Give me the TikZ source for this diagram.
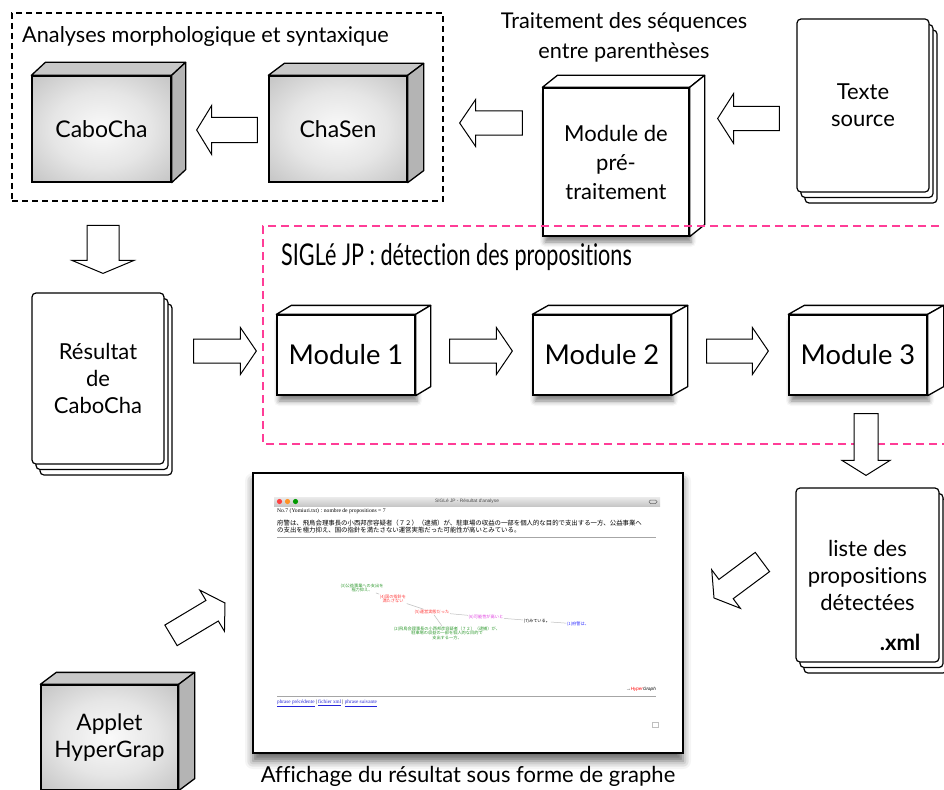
\documentclass[tikz,border=0pt]{standalone}
\usepackage{fontspec}
\setmainfont{Lato}[Ligatures=NoCommon]
\newfontfamily\condfont[FakeStretch=0.72, Ligatures=NoCommon]{Lato}
\newfontfamily\jpfont{Noto Sans CJK JP}
\newfontfamily\shotserif{Liberation Serif}
\newfontfamily\shotsans{Liberation Sans}
\usetikzlibrary{calc, positioning, shadows.blur}
\definecolor{sigPink}{HTML}{FF3D97}
\definecolor{cubeTop}{HTML}{C8C8C8}
\definecolor{cubeSide}{HTML}{B4B4B4}
\definecolor{jpGreen}{HTML}{2F9A2F}
\definecolor{jpRed}{HTML}{FF3B3B}
\definecolor{jpMagenta}{HTML}{E03CE0}
\definecolor{jpBlue}{HTML}{2B2BFF}
\definecolor{linkBlue}{HTML}{2424D8}
\pgfdeclareradialshading{cubeglow}{\pgfpoint{0bp}{0bp}}{color(0bp)=(black!2); color(18bp)=(black!10); color(45bp)=(black!30); color(72bp)=(black!45)}
\tikzset{
  graycube/.style={rectangle, draw, line width=1.3pt, shading=cubeglow,
                   align=center, inner sep=0pt, font=\fontsize{23}{27}\selectfont},
  whitecube/.style={rectangle, draw, line width=1.3pt, fill=white, align=center,
                    inner sep=0pt, font=\fontsize{22}{29}\selectfont,
                    blur shadow={shadow xshift=2pt, shadow yshift=-6pt,
                                 shadow blur radius=5pt, shadow opacity=50}},
  docpage/.style={rectangle, rounded corners=4pt, draw, line width=1.2pt, fill=white,
                  align=center, inner sep=0pt, font=\fontsize{22}{27}\selectfont},
  sheetback/.style={draw, line width=1.2pt, fill=white, rounded corners=4pt},
  bigarrow/.style={draw, line width=1pt, fill=white, line join=miter},
  anaframe/.style={rectangle, draw, dashed, dash pattern=on 6pt off 4pt, line width=1.2pt},
  pinkframe/.style={draw=sigPink, line width=2.6pt, dash pattern=on 8pt off 5pt},
  shotframe/.style={rectangle, draw, line width=2pt, fill=white,
                    blur shadow={shadow xshift=0pt, shadow yshift=-8pt,
                                 shadow blur radius=8pt, shadow opacity=60}},
  grnode/.style={inner sep=0.5pt, align=center, font=\jpfont\fontsize{4.2}{4.6}\selectfont},
  gredge/.style={draw=black!25, line width=0.5pt},
}
% top and right faces of a cube: node, depth, top fill, side fill
\newcommand{\cubefaces}[4]{%
  \draw[line width=1.3pt, line join=round, fill=#3] (#1.north west) -- ++(#2)
    -- ($(#1.north east)+(#2)$) -- (#1.north east) -- cycle;
  \draw[line width=1.3pt, line join=round, fill=#4] (#1.north east) -- ($(#1.north east)+(#2)$)
    -- ($(#1.south east)+(#2)$) -- (#1.south east) -- cycle;}
% two sheets behind a document: centre, width, height
\newcommand{\sheets}[3]{%
  \foreach \k in {2,1}
    \draw[sheetback] ($(#1)+(\k*4-#2/2,\k*5.5-#3/2)$) rectangle ($(#1)+(\k*4+#2/2,\k*5.5+#3/2)$);}
% hollow block arrow: tail, tip, shaft half width, head half width, head length
\newcommand{\fatarrow}[5]{%
  \coordinate (fa-t) at #1;
  \coordinate (fa-p) at #2;
  \coordinate (fa-h) at ($(fa-p)!#5!(fa-t)$);
  \draw[bigarrow] ($(fa-t)!#3!90:(fa-p)$) -- ($(fa-h)!#3!90:(fa-p)$) -- ($(fa-h)!#4!90:(fa-p)$)
    -- (fa-p) -- ($(fa-h)!#4!-90:(fa-p)$) -- ($(fa-h)!#3!-90:(fa-p)$)
    -- ($(fa-t)!#3!-90:(fa-p)$) -- cycle;}

\begin{document}
\begin{tikzpicture}[x=1pt, y=-1pt, font=\fontsize{21.7}{26}\selectfont]
  \useasboundingbox (0,0) rectangle (944,789);

  % analyses morphologique et syntaxique
  \node[anaframe, minimum width=431pt, minimum height=188pt] (anabox) at (227.5,107) {};
  \node[anchor=base west, inner sep=0pt] (anatitle) at (22,43) {Analyses morphologique et syntaxique};
  \node[graycube, minimum width=139pt, minimum height=106pt] (cabocha) at (101.5,129) {CaboCha};
  \node[graycube, minimum width=138pt, minimum height=106pt] (chasen) at (338,129) {ChaSen};
  \cubefaces{cabocha}{14,-13}{cubeTop}{cubeSide}
  \cubefaces{chasen}{16,-12}{cubeTop}{cubeSide}

  % pre-traitement
  \node[anchor=north, align=center, inner sep=0pt, font=\fontsize{21.7}{30}\selectfont] (pretitle)
    at (624,12) {Traitement des séquences\\entre parenthèses};
  \node[whitecube, minimum width=146pt, minimum height=148pt] (pretrait) at (616,162)
    {Module de\\pré-\\traitement};
  \cubefaces{pretrait}{15,-12}{white}{white}
  \coordinate (textepos) at (863,105.5);
  \sheets{textepos}{132}{173}
  \node[docpage, minimum width=132pt, minimum height=173pt] (texte) at (textepos) {Texte\\source};

  \fatarrow{($(chasen.west)+(-11,1)$)}{($(cabocha.east)+(25,1)$)}{12.5pt}{24.5pt}{15pt}
  \fatarrow{($(pretrait.west)+(-20,-39)$)}{($(chasen.east)+(52,-6)$)}{12pt}{23.5pt}{16pt}
  \fatarrow{($(texte.west)+(-17,13)$)}{($(pretrait.east)+(28,-43.5)$)}{12pt}{25pt}{16pt}

  % SIGLe JP
  \coordinate (resultatpos) at (98,378.5);
  \sheets{resultatpos}{132}{171}
  \node[docpage, minimum width=132pt, minimum height=171pt] (resultat) at (resultatpos)
    {Résultat\\de\\CaboCha};
  \fatarrow{($(resultat.north)+(5,-67)$)}{($(resultat.north)+(5,-19)$)}{16pt}{31pt}{13pt}
  \draw[pinkframe] (952,226) -- (263,226) -- (263,444) -- (952,444);
  \node[anchor=base west, inner sep=0pt, font=\condfont\fontsize{30}{34}\selectfont] (sigtitle)
    at (281,265) {SIGLé JP : détection des propositions};
  \node[whitecube, minimum width=138pt, minimum height=80pt, font=\fontsize{27.3}{32}\selectfont]
    (mod1) at (346,355) {Module 1};
  \node[whitecube, minimum width=138pt, minimum height=80pt, font=\fontsize{27.3}{32}\selectfont]
    (mod2) at (602,355) {Module 2};
  \node[whitecube, minimum width=138pt, minimum height=80pt, font=\fontsize{27.3}{32}\selectfont]
    (mod3) at (858,355) {Module 3};
  \cubefaces{mod1}{15,-9}{white}{white}
  \cubefaces{mod2}{16,-9}{white}{white}
  \cubefaces{mod3}{16,-9}{white}{white}
  \fatarrow{($(resultat.east)+(29,-27.5)$)}{($(mod1.west)+(-20,-4)$)}{12pt}{23.5pt}{16pt}
  \fatarrow{($(mod1.east)+(34,-4)$)}{($(mod2.west)+(-20,-4)$)}{12pt}{23.5pt}{16pt}
  \fatarrow{($(mod2.east)+(35,-4)$)}{($(mod3.west)+(-20,-4)$)}{12pt}{23.5pt}{16pt}

  % liste xml
  \coordinate (listepos) at (867.5,575);
  \sheets{listepos}{143}{174}
  \node[docpage, minimum width=143pt, minimum height=174pt] (liste) at (listepos)
    {liste des\\propositions\\détectées};
  \node[anchor=base east, inner sep=0pt, font=\bfseries\fontsize{22}{26}\selectfont] (xml)
    at ($(liste.south east)+(-19,-12)$) {.xml};
  \fatarrow{($(mod3.south)+(8,18)$)}{($(liste.north)+(-1.5,-12)$)}{12pt}{24pt}{15pt}

  % capture d'ecran
  \node[shotframe, minimum width=430pt, minimum height=280pt] (capture) at (468,613) {};
  \node[anchor=base, font=\fontsize{22}{26}\selectfont] (legende) at (468,782)
    {Affichage du résultat sous forme de graphe};
  \shade[top color=black!8, bottom color=black!22] (274,497) rectangle (660,506);
  \fill[red!75] (279.5,501.5) circle (2.6pt);
  \fill[orange!85] (287.5,501.5) circle (2.6pt);
  \fill[green!60!black] (295.5,501.5) circle (2.6pt);
  \node[inner sep=0pt, text=black!70, font=\shotsans\fontsize{4.8}{5}\selectfont] (wintitle)
    at (467,501.5) {SIGLé JP - Résultat d'analyse};
  \draw[black!60, line width=0.5pt, rounded corners=1.5pt] (649,500) rectangle (657,503.5);
  \node[anchor=west, inner sep=0pt, font=\shotserif\fontsize{5.6}{6}\selectfont] (numero)
    at (277,511) {No.7 (Yomiuri.txt) : nombre de propositions = 7};
  \node[anchor=north west, inner sep=0pt, align=left, font=\jpfont\fontsize{6.4}{7.2}\selectfont]
    (phrase) at (277,519.5)
    {府警は、飛鳥会理事長の小西邦彦容疑者（７２）（逮捕）が、駐車場の収益の一部を個人的な目的で支出する一方、公益事業へ\\の支出を極力抑え、国の指針を満たさない運営実態だった可能性が高いとみている。};
  \draw[black!35, line width=0.6pt] (277,537) -- (656,537);
  \node[grnode, text=jpGreen] (g3) at (362,588) {(3)公益事業への支出を\\極力抑え、};
  \node[grnode, text=jpRed] (g4) at (393,599) {(4)国の指針を\\満たさない};
  \node[grnode, text=jpRed] (g5) at (432,612) {(5)運営実態だった};
  \node[grnode, text=jpMagenta] (g6) at (486,617) {(6)可能性が高いと};
  \node[grnode, text=black] (g7) at (537,621) {(7)みている。};
  \node[grnode, text=jpBlue] (g1) at (578,624) {(1)府警は、};
  \node[grnode, text=jpGreen] (g2) at (447,633)
    {(2)飛鳥会理事長の小西邦彦容疑者（７２）（逮捕）が、\\駐車場の収益の一部を個人的な目的で\\支出する一方、};
  \draw[gredge] (g3) -- (g4);
  \draw[gredge] (g4) -- (g5);
  \draw[gredge] (g5) -- (g6);
  \draw[gredge] (g6) -- (g7);
  \draw[gredge] (g7) -- (g1);
  \draw[gredge] (g5) -- (g2);
  \node[anchor=east, inner sep=0pt, font=\shotsans\itshape\fontsize{4.6}{5}\selectfont] (hgraph)
    at (656,689) {→\textcolor{red}{Hyper}Graph};
  \draw[black!35, line width=0.6pt] (277,696) -- (656,696);
  \node[anchor=west, inner sep=0pt, font=\shotserif\fontsize{5.2}{6}\selectfont] (liens) at (277,703.5)
    {\textcolor{linkBlue}{\underline{phrase précédente}} | \textcolor{linkBlue}{\underline{fichier xml}} | \textcolor{linkBlue}{\underline{phrase suivante}}};
  \draw[black!25, line width=0.4pt] (652,722) rectangle (658,727);

  % applet
  \node[graycube, minimum width=137pt, minimum height=105pt, font=\fontsize{22.7}{27}\selectfont]
    (applet) at (109.5,737.5) {Applet\\HyperGrap};
  \cubefaces{applet}{16,-12}{cubeTop}{cubeSide}
  \fatarrow{($(liste.west)+(-33,-13)$)}{($(capture.east)+(30,-15)$)}{12pt}{24pt}{15pt}
  \fatarrow{($(applet.north)+(61.5,-49)$)}{($(capture.west)+(-27,-10)$)}{12pt}{24pt}{15pt}
\end{tikzpicture}
\end{document}
